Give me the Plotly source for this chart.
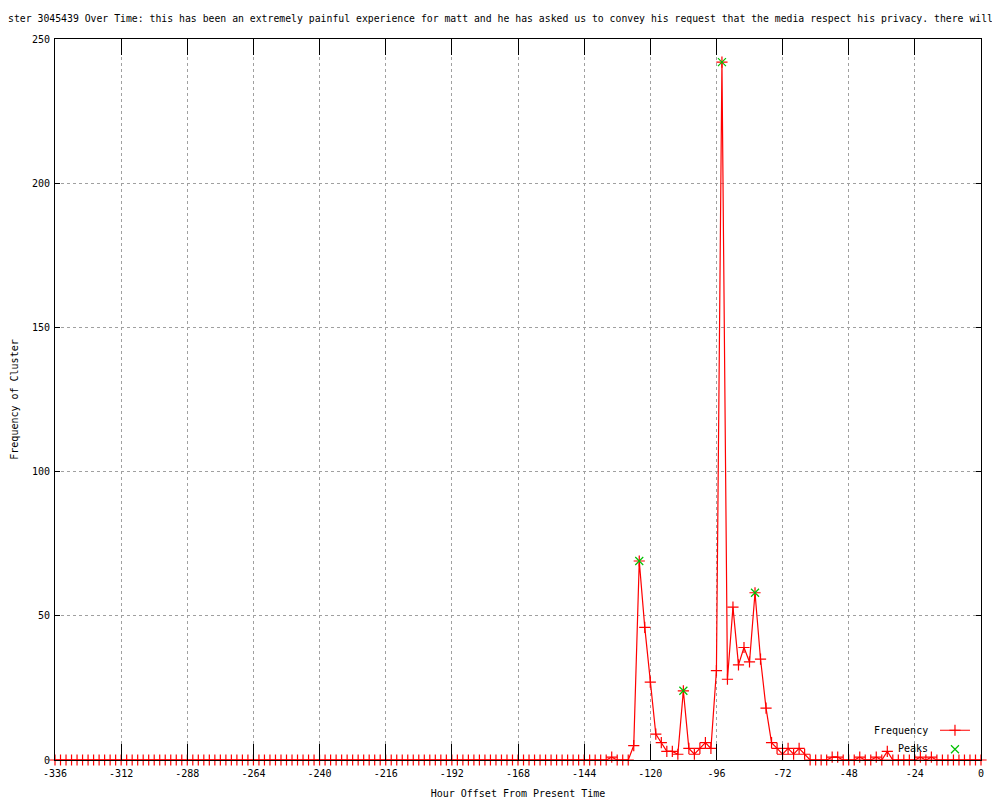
import plotly.graph_objects as go

FONT = "DejaVu Sans Mono"

# Hour offsets (every 2 hours from -336 to 0)
hours = [
    -336, -334, -332, -330, -328, -326, -324, -322, -320, -318, -316, -314,
    -312, -310, -308, -306, -304, -302, -300, -298, -296, -294, -292, -290,
    -288, -286, -284, -282, -280, -278, -276, -274, -272, -270, -268, -266,
    -264, -262, -260, -258, -256, -254, -252, -250, -248, -246, -244, -242,
    -240, -238, -236, -234, -232, -230, -228, -226, -224, -222, -220, -218,
    -216, -214, -212, -210, -208, -206, -204, -202, -200, -198, -196, -194,
    -192, -190, -188, -186, -184, -182, -180, -178, -176, -174, -172, -170,
    -168, -166, -164, -162, -160, -158, -156, -154, -152, -150, -148, -146,
    -144, -142, -140, -138, -136, -134, -132, -130, -128, -126, -124, -122,
    -120, -118, -116, -114, -112, -110, -108, -106, -104, -102, -100, -98,
    -96, -94, -92, -90, -88, -86, -84, -82, -80, -78, -76, -74,
    -72, -70, -68, -66, -64, -62, -60, -58, -56, -54, -52, -50,
    -48, -46, -44, -42, -40, -38, -36, -34, -32, -30, -28, -26,
    -24, -22, -20, -18, -16, -14, -12, -10, -8, -6, -4, -2,
    0,
]

frequency = [
    0, 0, 0, 0, 0, 0, 0, 0, 0, 0, 0, 0,
    0, 0, 0, 0, 0, 0, 0, 0, 0, 0, 0, 0,
    0, 0, 0, 0, 0, 0, 0, 0, 0, 0, 0, 0,
    0, 0, 0, 0, 0, 0, 0, 0, 0, 0, 0, 0,
    0, 0, 0, 0, 0, 0, 0, 0, 0, 0, 0, 0,
    0, 0, 0, 0, 0, 0, 0, 0, 0, 0, 0, 0,
    0, 0, 0, 0, 0, 0, 0, 0, 0, 0, 0, 0,
    0, 0, 0, 0, 0, 0, 0, 0, 0, 0, 0, 0,
    0, 0, 0, 0, 0, 1, 0, 0, 0, 5, 69, 46,
    27, 9, 6, 3, 3, 2, 24, 4, 2, 4, 6, 4,
    31, 242, 28, 53, 33, 39, 34, 58, 35, 18, 6, 4,
    2, 4, 2, 4, 2, 0, 0, 0, 0, 1, 1, 0,
    0, 0, 1, 0, 0, 1, 0, 3, 0, 0, 0, 0,
    0, 1, 0, 1, 0, 0, 0, 0, 0, 0, 0, 0,
    0,
]

peak_hours = [-124, -108, -94, -82]
peak_values = [69, 24, 242, 58]

x_tick_values = [-336, -312, -288, -264, -240, -216, -192, -168, -144, -120, -96, -72, -48, -24, 0]
x_tick_labels = ["-336", "-312", "-288", "-264", "-240", "-216", "-192", "-168",
                 "-144", "-120", "-96", "-72", "-48", "-24", "0"]
y_tick_values = [0, 50, 100, 150, 200, 250]
y_tick_labels = ["0", "50", "100", "150", "200", "250"]

title_text = ("ster 3045439 Over Time: this has been an extremely painful experience for matt "
              "and he has asked us to convey his request that the media respect his privacy. there will")

fig = go.Figure()
fig.add_trace(go.Scatter(
    x=hours, y=frequency, mode="lines+markers", name="",
    line=dict(color="#ff0000", width=1.2),
    marker=dict(symbol="cross-thin", size=8, color="#ff0000",
                line=dict(color="#ff0000", width=1.2)),
    cliponaxis=False,
))
fig.add_trace(go.Scatter(
    x=peak_hours, y=peak_values, mode="markers", name="",
    marker=dict(symbol="x-thin", size=8, color="#00c000",
                line=dict(color="#00c000", width=1.2)),
    cliponaxis=False,
))

axis_common = dict(
    showline=True, linecolor="black", linewidth=1, mirror="ticks",
    ticks="inside", tickcolor="black", tickwidth=1,
    showgrid=True, gridcolor="#a0a0a0", gridwidth=1, griddash="3px,3px",
    zeroline=False, automargin=False,
    tickfont=dict(family=FONT, size=10, color="black"),
)

fig.update_xaxes(
    range=[-336, 0], tickvals=x_tick_values, ticktext=x_tick_labels, ticklen=16,
    ticklabelstandoff=4,
    title=dict(text="Hour Offset From Present Time", font=dict(family=FONT, size=10, color="black"),
               standoff=11),
    **axis_common,
)
fig.update_yaxes(
    range=[0, 250], tickvals=y_tick_values, ticktext=y_tick_labels, ticklen=5,
    ticklabelstandoff=2,
    title=dict(text="Frequency of Cluster", font=dict(family=FONT, size=10, color="black"),
               standoff=11),
    **axis_common,
)

fig.update_layout(
    width=1000, height=800,
    margin=dict(l=47, r=27, t=31, b=48),
    paper_bgcolor="white", plot_bgcolor="white",
    font=dict(family=FONT, size=10, color="black"),
    title=dict(text=title_text, x=0, xref="container", xanchor="left",
               y=1 - 11 / 800, yref="container", yanchor="middle",
               font=dict(family=FONT, size=9.8, color="black")),
    showlegend=True,
    legend=dict(x=0.9503, xanchor="left", y=0.0614, yanchor="top",
                bgcolor="rgba(0,0,0,0)", borderwidth=0,
                font=dict(family=FONT, size=10, color="black"),
                tracegroupgap=0),
    annotations=[
        dict(text="Frequency", xref="paper", yref="paper", x=0.945, y=0.0416,
             xanchor="right", yanchor="middle", showarrow=False,
             font=dict(family=FONT, size=10, color="black")),
        dict(text="Peaks", xref="paper", yref="paper", x=0.945, y=0.01526,
             xanchor="right", yanchor="middle", showarrow=False,
             font=dict(family=FONT, size=10, color="black")),
    ],
)

fig.write_html("out.html")
